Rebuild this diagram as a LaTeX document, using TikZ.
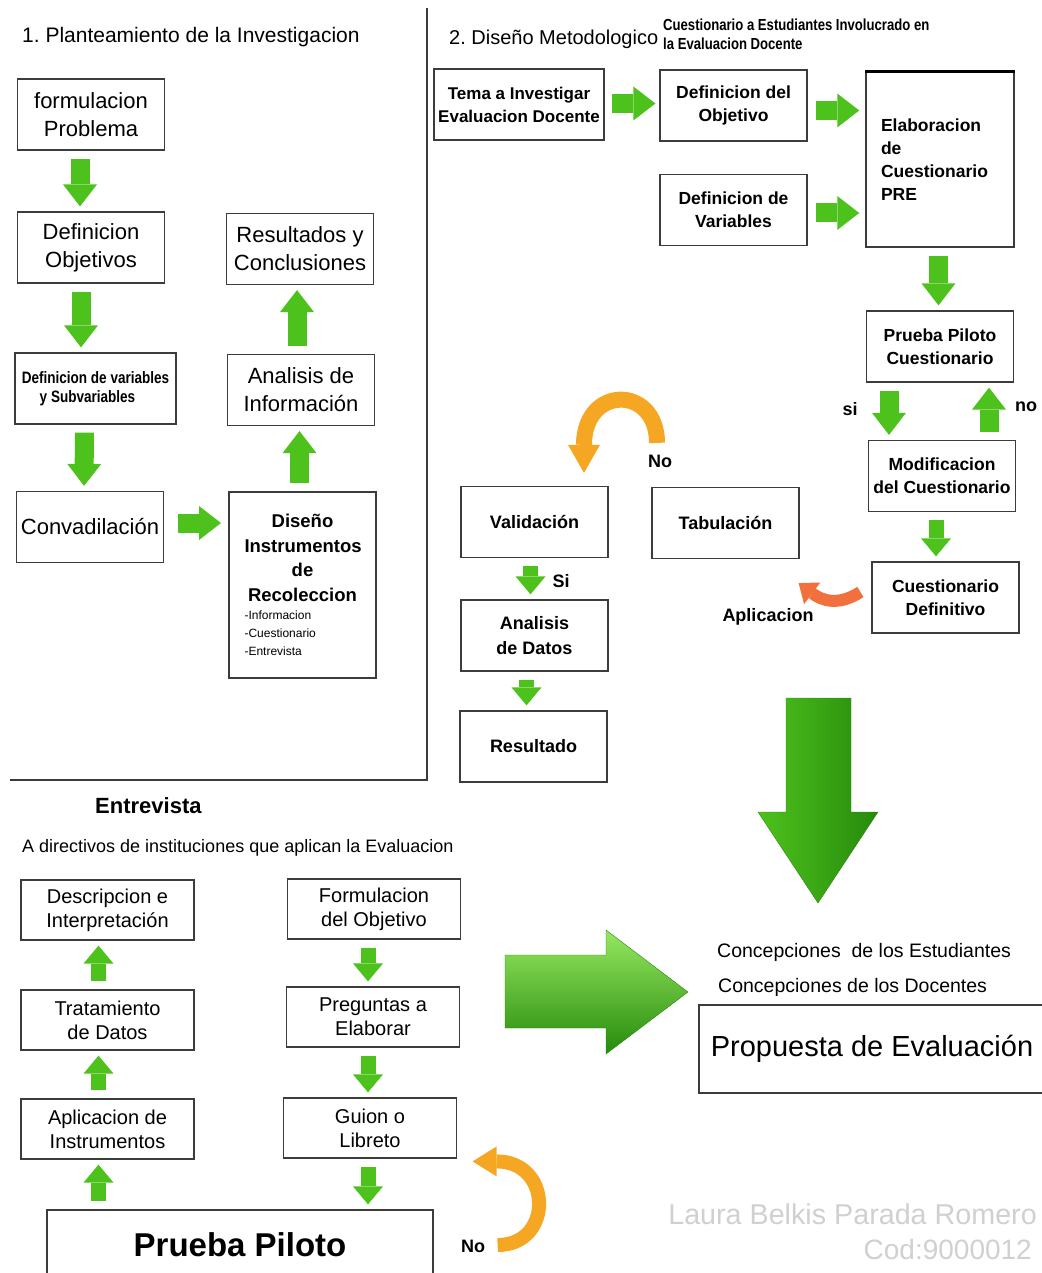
\documentclass[tikz,border=0pt]{standalone}
\usepackage{fontspec}
\setmainfont{Liberation Sans}
\newfontfamily\narrowfont[FakeStretch=0.82]{Liberation Sans}
\usetikzlibrary{shapes,arrows.meta,positioning,calc}

\definecolor{verde}{RGB}{78,194,28}
\definecolor{verdeosc}{RGB}{38,138,12}
\definecolor{verdeclaro}{RGB}{150,232,96}
\definecolor{naranja}{RGB}{245,167,35}
\definecolor{naranjarojo}{RGB}{242,112,62}
\definecolor{gris}{RGB}{60,60,60}
\definecolor{marca}{RGB}{208,208,208}

\begin{document}
\begin{tikzpicture}[x=1pt,y=-1pt]
        % Define block styles
        \tikzstyle{block} = [rectangle, draw=gris, line width=1.2pt, align=center, inner sep=0pt, minimum width=147pt, minimum height=71pt, font=\fontsize{22}{28}\selectfont]
        \tikzstyle{bblock} = [block, font=\bfseries\fontsize{17.5}{23}\selectfont]
        \tikzstyle{eblock} = [block, minimum width=173pt, minimum height=60pt, font=\fontsize{20}{24}\selectfont]
        \tikzstyle{rotulo} = [inner sep=0pt, font=\bfseries\fontsize{18}{22}\selectfont]
        \tikzstyle{flecha} = [draw=verde, line width=19pt, -{Triangle[width=34pt,length=22pt,line width=0pt]}, shorten <=8pt, shorten >=5pt]
        \tikzstyle{flechita} = [flecha, line width=15pt, -{Triangle[width=30pt,length=18pt,line width=0pt]}]
        \tikzstyle{vuelta} = [draw=naranja, line width=16pt, -{Triangle[width=32pt,length=28pt,line width=0pt]}]
        \tikzstyle{aplica} = [draw=naranjarojo, line width=12pt, -{Triangle[width=27pt,length=17pt,line width=0pt]}]

        \useasboundingbox (0,0) rectangle (1041,1273);

        % 1. Planteamiento
        \node [anchor=west, inner sep=0pt, font=\fontsize{21}{25}\selectfont] (titulo1) at (22,37) {1.\ Planteamiento de la Investigacion};
        \node [block] (formulacion) at (91,114.5) {formulacion\\Problema};
        \node [block, below of=formulacion, node distance=133pt] (objetivos) {Definicion\\Objetivos};
        \node [block, minimum width=161pt, font=\narrowfont\bfseries\fontsize{16.5}{19}\selectfont, below of=objetivos, node distance=141pt, xshift=4.5pt] (variables) {Definicion de variables\\y Subvariables\hspace*{16pt}};
        \node [block, below of=variables, node distance=138.5pt, xshift=-5.5pt] (convalidacion) {Convadilación};
        \node [block, minimum height=186pt, line width=2pt] (diseno) at (302.5,585) {\parbox{116pt}{\centering\bfseries\fontsize{18.5}{24.5}\selectfont Diseño\\Instrumentos\\de\\Recoleccion\par
            \raggedright\mdseries\fontsize{12}{18}\selectfont -Informacion\\-Cuestionario\\-Entrevista}};
        \node [block, above of=diseno, node distance=195pt, xshift=-1.5pt] (analisis) {Analisis de\\Información};
        \node [block, above of=analisis, node distance=141pt, xshift=-1pt] (resultados) {Resultados y\\Conclusiones};

        \draw [gris, line width=1.5pt] (427,8) -- (427,780) -- (10,780);

        % 2. Diseno metodologico
        \node [anchor=west, inner sep=0pt, font=\fontsize{20}{24}\selectfont] (titulo2) at (449,39) {2.\ Diseño Metodologico};
        \node [anchor=north west, align=left, inner sep=0pt, font=\narrowfont\bfseries\fontsize{16}{19}\selectfont] (subtitulo) at (663,19) {Cuestionario a Estudiantes Involucrado en\\la Evaluacion Docente};
        \node [bblock, minimum width=170pt, font=\bfseries\fontsize{17}{23}\selectfont] (tema) at (519,104.5) {Tema a Investigar\\Evaluacion Docente};
        \node [bblock] (objetivo) at (733.5,105.5) {Definicion del\\Objetivo};
        \node [bblock, below of=objetivo, node distance=104.5pt] (vars) {Definicion de\\Variables};
        \node [bblock, text width=118pt, align=left, inner xsep=15pt, minimum height=175pt, line width=1.5pt] (elaboracion) at (940,159.5) {Elaboracion\\de\\Cuestionario\\PRE};
        \draw [line width=3pt] (elaboracion.north west) -- (elaboracion.north east);
        \node [bblock, below of=elaboracion, node distance=187pt] (piloto) {Prueba Piloto\\Cuestionario};
        \node [bblock, below of=piloto, node distance=129.5pt, xshift=2pt] (modificacion) {Modificacion\\del Cuestionario};
        \node [bblock, below of=modificacion, node distance=121.5pt, xshift=3.5pt] (definitivo) {Cuestionario\\Definitivo};
        \node [bblock, font=\bfseries\fontsize{18}{25}\selectfont] (tabulacion) at (725.5,523) {Tabulación};
        \node [bblock, font=\bfseries\fontsize{18}{25}\selectfont] (validacion) at (534.5,522) {Validación};
        \node [bblock, font=\bfseries\fontsize{18}{25}\selectfont, below of=validacion, node distance=113.5pt] (analisisdatos) {Analisis\\de Datos};
        \node [bblock, font=\bfseries\fontsize{18}{25}\selectfont, below of=analisisdatos, node distance=111pt, xshift=-1pt] (resultado) {Resultado};

        \node [rotulo] (si) at (850,409) {si};
        \node [rotulo] (no) at (1026,407) {no};
        \node [rotulo] (noval) at (660,461) {No};
        \node [rotulo] (sival) at (561,581) {Si};
        \node [rotulo] (aplicacionlbl) at (768,617) {Aplicacion};

        % Entrevista
        \node [anchor=west, inner sep=0pt, font=\bfseries\fontsize{22}{26}\selectfont] (entrevista) at (95,806) {Entrevista};
        \node [anchor=west, inner sep=0pt, font=\fontsize{18}{22}\selectfont] (directivos) at (22,848) {A directivos de instituciones que aplican la Evaluacion};
        \node [eblock] (descripcion) at (107.5,910) {Descripcion e\\Interpretación};
        \node [eblock, below of=descripcion, node distance=110pt] (tratamiento) {Tratamiento\\de Datos};
        \node [eblock, below of=tratamiento, node distance=109pt] (aplicacion) {Aplicacion de\\Instrumentos};
        \node [eblock] (formulacionobj) at (374,909) {Formulacion\\del Objetivo};
        \node [eblock, below of=formulacionobj, node distance=108pt, xshift=-1pt] (preguntas) {Preguntas a\\Elaborar};
        \node [eblock, below of=preguntas, node distance=111pt, xshift=-3pt] (guion) {Guion o\\Libreto};
        \node [block, minimum width=386pt, minimum height=70pt, font=\bfseries\fontsize{33}{38}\selectfont] (pruebapiloto) at (240,1245) {Prueba Piloto};
        \node [rotulo] (nopiloto) at (473,1246) {No};

        % Propuesta
        \node [anchor=west, inner sep=0pt, font=\fontsize{19.5}{23}\selectfont] (estudiantes) at (717,952) {Concepciones\ \ de los Estudiantes};
        \node [anchor=west, inner sep=0pt, font=\fontsize{19.5}{23}\selectfont] (docentes) at (718,987) {Concepciones de los Docentes};
        \node [block, minimum width=346pt, minimum height=88pt, font=\fontsize{29}{34}\selectfont] (propuesta) at (872,1049) {Propuesta de Evaluación};
        \node [anchor=east, inner sep=0pt, text=marca, font=\fontsize{28.7}{32}\selectfont] (autora) at (1037,1214) {Laura Belkis Parada Romero};
        \node [anchor=east, inner sep=0pt, text=marca, font=\fontsize{28}{32}\selectfont] (codigo) at (1032,1249) {Cod:9000012};

        % Big arrows
        \shade [left color=verde, middle color=verdeclaro, right color=verdeosc, draw=verdeosc] (786,698) -- (851,698) -- (851,812) -- (878,812) -- (818,903) -- (758,812) -- (786,812) -- cycle;
        \shade [top color=verdeclaro, bottom color=verdeosc, draw=verdeosc] (505,955) -- (606,955) -- (606,930) -- (688,992) -- (606,1054) -- (606,1028) -- (505,1028) -- cycle;

        % Arrows
        \path [flecha] ([xshift=-11pt]formulacion.south) -- ([xshift=-11pt]objetivos.north);
        \path [flecha] ([xshift=-10pt]objetivos.south) -- ([xshift=-14.5pt]variables.north);
        \path [flecha] ([xshift=-11pt]variables.south) -- ([xshift=-6pt]convalidacion.north);
        \path [flecha, shorten <=14pt, shorten >=7pt] ([yshift=4pt]convalidacion.east) -- ([yshift=4pt]convalidacion.east -| diseno.west);
        \path [flecha] ([xshift=-3pt]diseno.north) -- ([xshift=-3pt]diseno.north |- analisis.south);
        \path [flecha] ([xshift=-4pt]analisis.north) -- ([xshift=-4pt]analisis.north |- resultados.south);

        \path [flecha, shorten <=7pt, shorten >=4pt] ([yshift=1pt]tema.east) -- ([yshift=1pt]tema.east -| objetivo.west);
        \path [flecha, shorten <=8pt, shorten >=6pt] ([yshift=-5pt]objetivo.east) -- ([yshift=-5pt]objetivo.east -| elaboracion.west);
        \path [flecha, shorten <=8pt, shorten >=6pt] ([yshift=-3pt]vars.east) -- ([yshift=-3pt]vars.east -| elaboracion.west);
        \path [flecha] ([xshift=-1.5pt]elaboracion.south) -- ([xshift=-1.5pt]elaboracion.south |- piloto.north);
        \path [flecha] ([xshift=-51pt]piloto.south) -- ([xshift=-51pt]piloto.south |- modificacion.north);
        \path [flecha] ([xshift=47pt]modificacion.north) -- ([xshift=47pt]modificacion.north |- piloto.south);
        \path [flechita] ([xshift=-6pt]modificacion.south) -- ([xshift=-6pt]modificacion.south |- definitivo.north);
        \path [flechita] ([xshift=-4pt]validacion.south) -- ([xshift=-4pt]validacion.south |- analisisdatos.north);
        \path [flechita] ([xshift=-8pt]analisisdatos.south) -- ([xshift=-8pt]analisisdatos.south |- resultado.north);

        \path [flechita] ([xshift=-9pt]tratamiento.north) -- ([xshift=-9pt]tratamiento.north |- descripcion.south);
        \path [flechita] ([xshift=-9pt]aplicacion.north) -- ([xshift=-9pt]aplicacion.north |- tratamiento.south);
        \path [flechita] ([xshift=-9pt]aplicacion.south |- pruebapiloto.north) -- ([xshift=-9pt]aplicacion.south);
        \path [flechita] ([xshift=-6pt]formulacionobj.south) -- ([xshift=-6pt]formulacionobj.south |- preguntas.north);
        \path [flechita] ([xshift=-5pt]preguntas.south) -- ([xshift=-5pt]preguntas.south |- guion.north);
        \path [flechita] ([xshift=-2pt]guion.south) -- ([xshift=-2pt]guion.south |- pruebapiloto.north);

        % Orange arrows
        \coordinate (aplIni) at ([xshift=-11pt,yshift=5.5pt]definitivo.west);
        \coordinate (aplFin) at ([xshift=-1pt,yshift=-24pt]tabulacion.south east);
        \draw [aplica] (aplIni) .. controls ($(aplIni)+(-22,14)$) and ($(aplFin)+(24,18)$) .. (aplFin);
        \coordinate (noIni) at ([xshift=-68.5pt,yshift=44pt]tabulacion.north);
        \coordinate (noFin) at ([xshift=49.5pt,yshift=13pt]validacion.north);
        \draw [vuelta] (noIni) .. controls ($(noIni)+(0,-58)$) and ($(noFin)+(0,-88)$) .. (noFin);
        \coordinate (pilIni) at ([xshift=64pt]pruebapiloto.east);
        \coordinate (pilFin) at ([xshift=39pt,yshift=48pt]pruebapiloto.north east);
        \draw [vuelta, line width=14pt, -{Triangle[width=30pt,length=24pt,line width=0pt]}] (pilIni) .. controls ($(pilIni)+(56,0)$) and ($(pilFin)+(80,0)$) .. (pilFin);

\end{tikzpicture}
\end{document}
